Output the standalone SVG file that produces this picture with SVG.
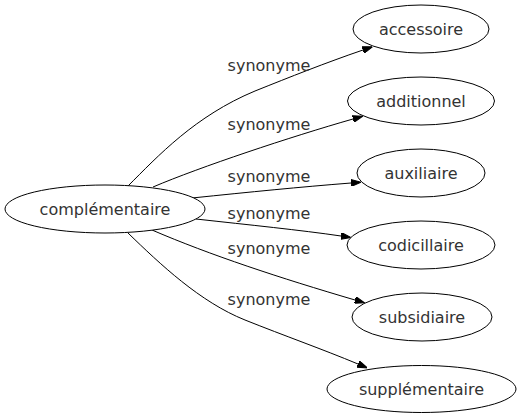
<svg xmlns="http://www.w3.org/2000/svg" width="521" height="419" viewBox="0 0 521 419">
<style>
.node ellipse{fill:#fff;stroke:#000;stroke-width:1}
.node text,.lbl{font-family:"DejaVu Sans",sans-serif;font-size:16px;fill:#333;text-anchor:middle}
.edge{fill:none;stroke:#000;stroke-width:1}
</style>
<defs>
<marker id="arr" viewBox="0 0 10 7" refX="0" refY="3.5" markerWidth="10" markerHeight="7" markerUnits="userSpaceOnUse" orient="auto">
<path d="M0,0 L10,3.5 L0,7 Z" fill="#000" stroke="#000" stroke-width="1"/>
</marker>
</defs>
<rect width="521" height="419" fill="#fff"/>
<g id="connectors">
<path class="edge" marker-end="url(#arr)" d="M128,186 C158,156 195,116 255,91 C290,77 325,63 363,50"/>
<path class="edge" marker-end="url(#arr)" d="M153,187 C200,167 290,137 353,119"/>
<path class="edge" marker-end="url(#arr)" d="M192,198 C250,192 300,187 351,183"/>
<path class="edge" marker-end="url(#arr)" d="M196,219 C250,225 300,230 341,236"/>
<path class="edge" marker-end="url(#arr)" d="M152,230 C210,255 280,278 355,300"/>
<path class="edge" marker-end="url(#arr)" d="M128,233 C160,264 200,302 245,320 C285,336 322,349 358,364"/>
<text class="lbl" x="269" y="71">synonyme</text>
<text class="lbl" x="269" y="130">synonyme</text>
<text class="lbl" x="269" y="182">synonyme</text>
<text class="lbl" x="269" y="219">synonyme</text>
<text class="lbl" x="269" y="254">synonyme</text>
<text class="lbl" x="269" y="305">synonyme</text>
</g>
<g id="complementaire" class="node"><ellipse cx="105" cy="209" rx="100" ry="24"/><text x="105" y="215">complémentaire</text></g>
<g id="accessoire" class="node"><ellipse cx="421" cy="29" rx="68" ry="24"/><text x="421" y="34.5">accessoire</text></g>
<g id="additionnel" class="node"><ellipse cx="421" cy="101" rx="73.5" ry="24"/><text x="421" y="106.5">additionnel</text></g>
<g id="auxiliaire" class="node"><ellipse cx="421" cy="173" rx="64" ry="24"/><text x="421" y="178.5">auxiliaire</text></g>
<g id="codicillaire" class="node"><ellipse cx="421" cy="245" rx="74" ry="24"/><text x="421" y="250.5">codicillaire</text></g>
<g id="subsidiaire" class="node"><ellipse cx="422" cy="317" rx="70" ry="24"/><text x="422" y="322.5">subsidiaire</text></g>
<g id="supplementaire" class="node"><ellipse cx="421.5" cy="389" rx="94.5" ry="23.5"/><text x="421.5" y="394.5">supplémentaire</text></g>
</svg>
